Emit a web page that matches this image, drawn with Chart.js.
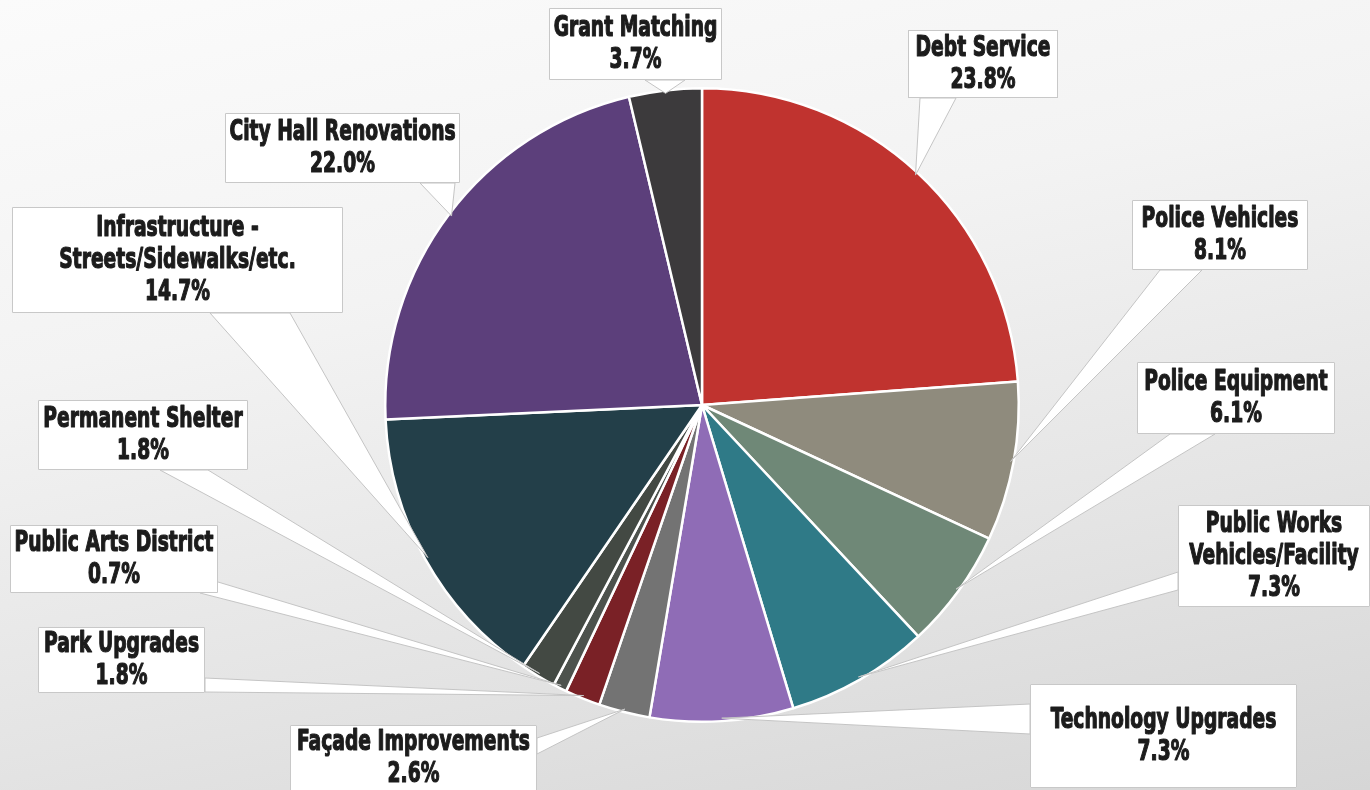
<!DOCTYPE html>
<html>
<head>
<meta charset="utf-8">
<script src="https://cdn.jsdelivr.net/npm/chart.js@4"></script>
<style>
  html, body { margin: 0; padding: 0; }
  body {
    width: 1370px; height: 790px; overflow: hidden;
    background: linear-gradient(168deg, #fbfbfb 0%, #f3f3f3 35%, #e4e4e4 70%, #d6d6d6 100%);
  }
  canvas { display: block; }
</style>
</head>
<body>
<canvas id="pie" width="1370" height="790"></canvas>
<script>
// categories, clockwise from 12 o'clock
const categories = [
  'Debt Service', 'Police Vehicles', 'Police Equipment', 'Public Works Vehicles/Facility',
  'Technology Upgrades', 'Façade Improvements', 'Park Upgrades', 'Public Arts District',
  'Permanent Shelter', 'Infrastructure - Streets/Sidewalks/etc.', 'City Hall Renovations', 'Grant Matching'
];
const shares = [23.8, 8.1, 6.1, 7.3, 7.3, 2.6, 1.8, 0.7, 1.8, 14.7, 22.0, 3.7];
const pctLabels = ['23.8%', '8.1%', '6.1%', '7.3%', '7.3%', '2.6%', '1.8%', '0.7%', '1.8%', '14.7%', '22.0%', '3.7%'];
const colors = [
  '#c0332f', '#8f8b7d', '#6f8877', '#2f7a87', '#8f6cb6', '#737373',
  '#7a2126', '#4d524d', '#434943', '#233f49', '#5c3f7b', '#3c3a3c'
];

// callout boxes: box [x, y, w, h], text lines, pointer base points
const callouts = [
  { box: [908, 30, 150, 68],   lines: ['Debt Service', '23.8%'],   base: [920, 98, 956, 98] },
  { box: [1132, 200, 176, 70], lines: ['Police Vehicles', '8.1%'], base: [1160, 270, 1202, 270] },
  { box: [1137, 362, 198, 72], lines: ['Police Equipment', '6.1%'], base: [1170, 434, 1215, 434] },
  { box: [1178, 505, 192, 102], lines: ['Public Works', 'Vehicles/Facility', '7.3%'], base: [1178, 572, 1178, 590] },
  { box: [1030, 684, 267, 104], lines: ['Technology Upgrades', '7.3%'], base: [1030, 704, 1030, 734] },
  { box: [290, 725, 247, 66],  lines: ['Façade Improvements', '2.6%'], base: [537, 738, 537, 754] },
  { box: [38, 627, 167, 66],   lines: ['Park Upgrades', '1.8%'],   base: [205, 678, 205, 692] },
  { box: [10, 525, 208, 68],   lines: ['Public Arts District', '0.7%'], base: [200, 593, 218, 582] },
  { box: [38, 400, 210, 70],   lines: ['Permanent Shelter', '1.8%'], base: [160, 470, 208, 470] },
  { box: [12, 207, 331, 106],  lines: ['Infrastructure -', 'Streets/Sidewalks/etc.', '14.7%'], base: [210, 313, 290, 313] },
  { box: [225, 113, 235, 70],  lines: ['City Hall Renovations', '22.0%'], base: [420, 183, 455, 183] },
  { box: [549, 8, 173, 72],    lines: ['Grant Matching', '3.7%'],  base: [645, 80, 685, 80] }
];

const calloutPlugin = {
  id: 'callouts',
  afterDatasetsDraw(chart) {
    const ctx = chart.ctx;
    const arcs = chart.getDatasetMeta(0).data;
    ctx.save();
    // pointers first
    arcs.forEach((arc, i) => {
      const p = arc.getProps(['x', 'y', 'startAngle', 'endAngle', 'outerRadius'], true);
      const mid = (p.startAngle + p.endAngle) / 2;
      const tx = p.x + Math.cos(mid) * (p.outerRadius - 3);
      const ty = p.y + Math.sin(mid) * (p.outerRadius - 3);
      const b = callouts[i].base;
      ctx.beginPath();
      ctx.moveTo(b[0], b[1]);
      ctx.lineTo(tx, ty);
      ctx.lineTo(b[2], b[3]);
      ctx.closePath();
      ctx.fillStyle = '#ffffff';
      ctx.fill();
      ctx.strokeStyle = '#c4c4c4';
      ctx.lineWidth = 1;
      ctx.stroke();
    });
    // boxes and text
    callouts.forEach((c, i) => {
      const [x, y, w, h] = c.box;
      ctx.fillStyle = '#ffffff';
      ctx.fillRect(x, y, w, h);
      ctx.strokeStyle = '#c8c8c8';
      ctx.lineWidth = 1;
      ctx.strokeRect(x + 0.5, y + 0.5, w - 1, h - 1);
      const n = c.lines.length;
      const step = 32;
      const top = y + h / 2 - (n - 1) * step / 2;
      ctx.fillStyle = '#1c1c1c';
      ctx.strokeStyle = '#1c1c1c';
      ctx.lineWidth = 1.1;
      ctx.lineJoin = 'round';
      ctx.font = 'bold 26px "DejaVu Sans Condensed", "DejaVu Sans", sans-serif';
      ctx.textAlign = 'center';
      ctx.textBaseline = 'middle';
      c.lines.forEach((line, k) => {
        ctx.save();
        ctx.translate(x + w / 2, top + k * step);
        ctx.scale(0.8, 1.12);
        ctx.fillText(line, 0, 0);
        ctx.strokeText(line, 0, 0);
        ctx.restore();
      });
    });
    ctx.restore();
  }
};

new Chart(document.getElementById('pie'), {
  type: 'pie',
  data: {
    labels: categories,
    datasets: [{
      data: shares,
      backgroundColor: colors,
      borderColor: '#ffffff',
      borderWidth: 2.5
    }]
  },
  options: {
    responsive: false,
    animation: false,
    layout: { padding: { left: 384, right: 350, top: 87, bottom: 67 } },
    plugins: {
      legend: { display: false },
      tooltip: { enabled: false }
    }
  },
  plugins: [calloutPlugin]
});
</script>
</body>
</html>
